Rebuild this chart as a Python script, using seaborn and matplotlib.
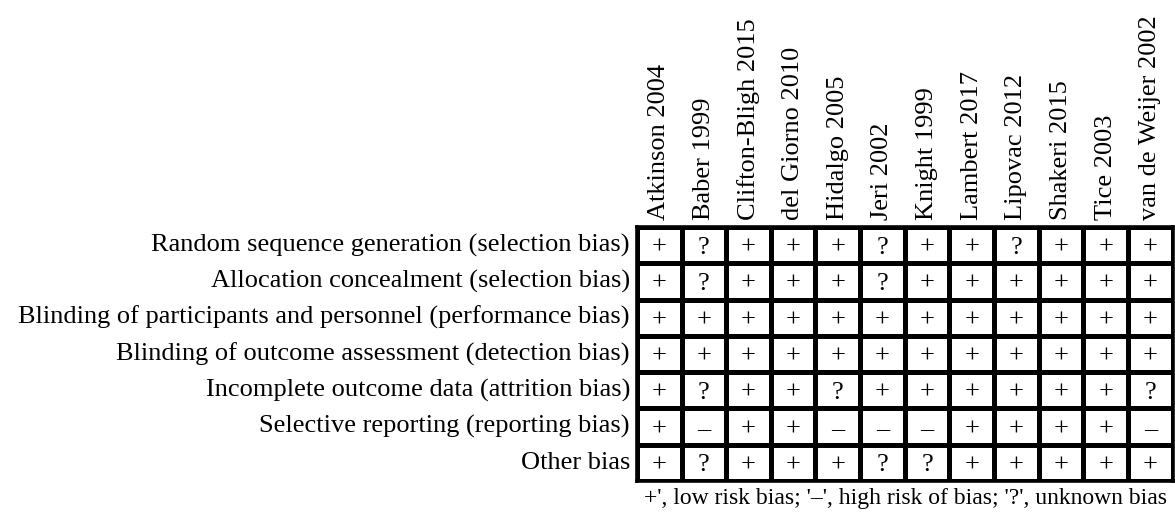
import matplotlib.pyplot as plt
import numpy as np
import pandas as pd
import seaborn as sns
from matplotlib.colors import ListedColormap

# studies (columns) and bias domains (rows)
studies = ["Atkinson 2004", "Baber 1999", "Clifton-Bligh 2015", "del Giorno 2010",
           "Hidalgo 2005", "Jeri 2002", "Knight 1999", "Lambert 2017",
           "Lipovac 2012", "Shakeri 2015", "Tice 2003", "van de Weijer 2002"]
domains = ["Random sequence generation (selection bias)",
           "Allocation concealment (selection bias)",
           "Blinding of participants and personnel (performance bias)",
           "Blinding of outcome assessment (detection bias)",
           "Incomplete outcome data (attrition bias)",
           "Selective reporting (reporting bias)",
           "Other bias"]

# judgements: + low, ? unclear, - high
random_seq = ["+", "?", "+", "+", "+", "?", "+", "+", "?", "+", "+", "+"]
allocation = ["+", "?", "+", "+", "+", "?", "+", "+", "+", "+", "+", "+"]
blind_part = ["+", "+", "+", "+", "+", "+", "+", "+", "+", "+", "+", "+"]
blind_outc = ["+", "+", "+", "+", "+", "+", "+", "+", "+", "+", "+", "+"]
incomplete = ["+", "?", "+", "+", "?", "+", "+", "+", "+", "+", "+", "?"]
selective = ["+", "-", "+", "+", "-", "-", "-", "+", "+", "+", "+", "-"]
other = ["+", "?", "+", "+", "+", "?", "?", "+", "+", "+", "+", "+"]

caption = "+', low risk bias; '\u2013', high risk of bias; '?', unknown bias"

sym = pd.DataFrame([random_seq, allocation, blind_part, blind_outc,
                    incomplete, selective, other], index=domains, columns=studies)
codes = sym.replace({"+": 0, "?": 1, "-": 2}).astype(int)
labels = sym.replace({"-": "\u2013"})

plt.rcParams["font.family"] = ["Liberation Serif", "DejaVu Serif"]

fig = plt.figure(figsize=(11.75, 5.17), dpi=100)
ax = fig.add_axes([0.542, 0.0696, 0.456, 0.4914])
sns.heatmap(codes, annot=labels.values, fmt="", cmap=ListedColormap(["white"]),
            cbar=False, linewidths=2.4, linecolor="black", ax=ax,
            annot_kws={"fontsize": 19, "color": "black", "va": "center_baseline"})

ax.xaxis.tick_top()
ax.set_xticklabels(studies, rotation=90, fontsize=19, va="bottom")
ax.set_yticklabels(domains, rotation=0, fontsize=19)
ax.tick_params(length=0, pad=5)
ax.set_xlabel("")
ax.set_ylabel("")
for s in ax.spines.values():
    s.set_visible(True)
    s.set_linewidth(2.6)

fig.text(0.771, 0.036, caption, ha="center", va="center", fontsize=17)

fig.savefig("out.png", dpi=100)
